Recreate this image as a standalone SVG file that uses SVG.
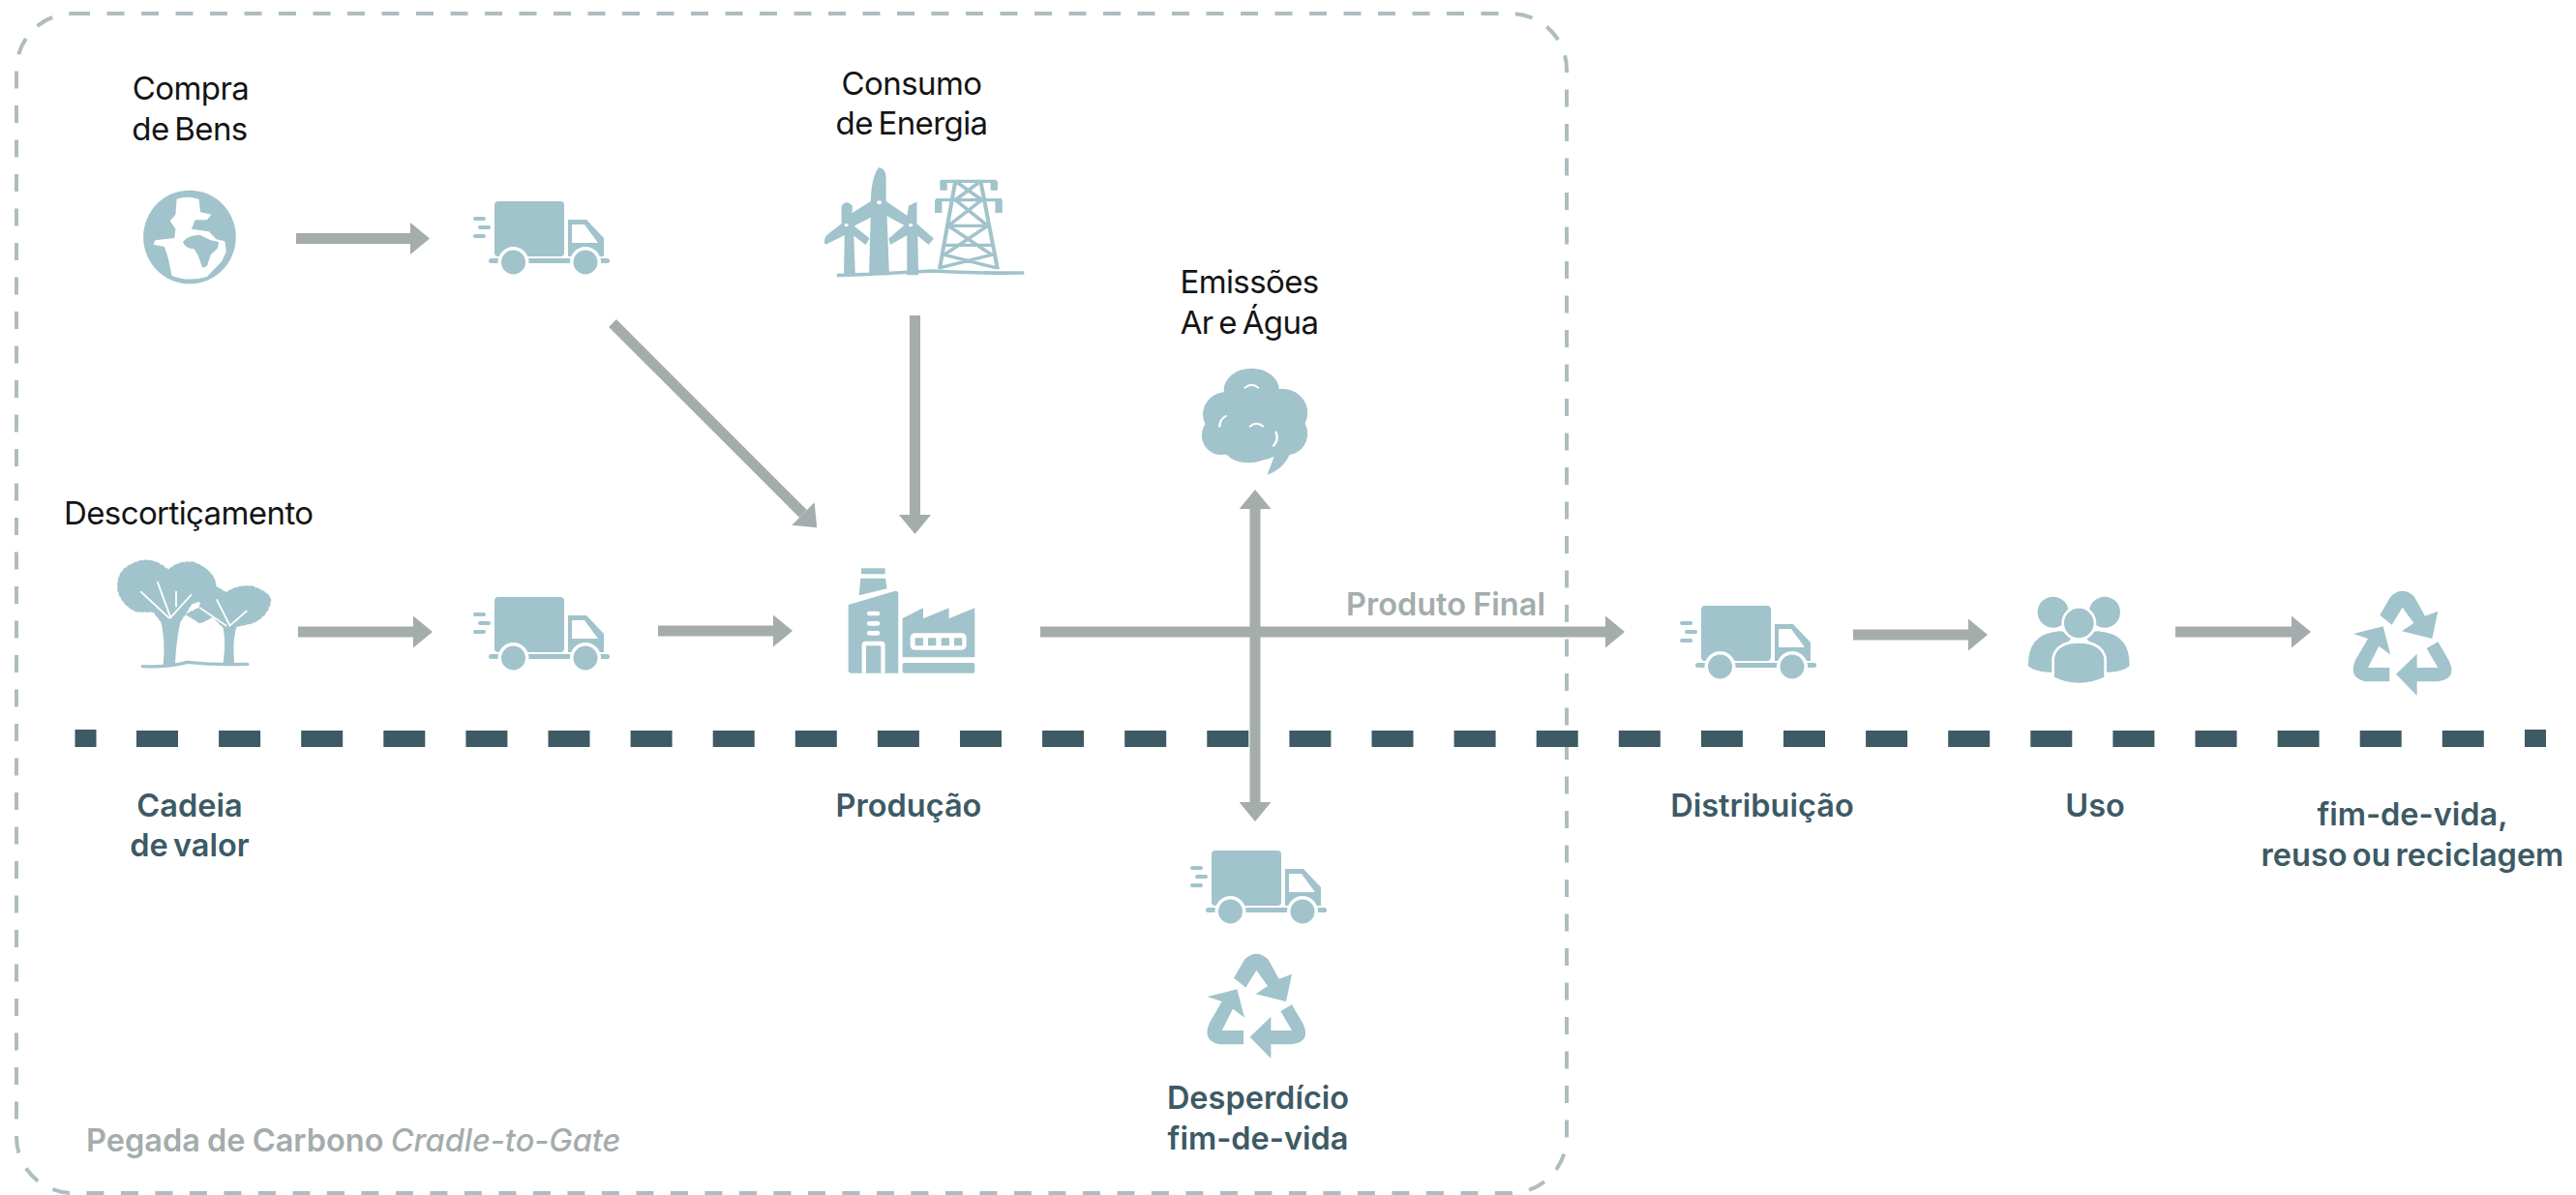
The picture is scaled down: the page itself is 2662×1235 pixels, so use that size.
<svg xmlns="http://www.w3.org/2000/svg" xmlns:xlink="http://www.w3.org/1999/xlink" width="2662" height="1235" viewBox="0 0 2662 1235">
<style>
.i{fill:#a1c3cb}
.w{fill:#fff}
.ws{fill:none;stroke:#fff;stroke-linecap:round}
.bl{font-family:Inter,"Liberation Sans",sans-serif;font-size:33px;font-weight:400;fill:#141414;letter-spacing:-.6px;word-spacing:-3px}
.tl{font-family:Inter,"Liberation Sans",sans-serif;font-size:32.5px;font-weight:600;fill:#3d5a65;word-spacing:-3px}
.gl{font-family:Inter,"Liberation Sans",sans-serif;font-size:32.5px;font-weight:600;fill:#a4acac;word-spacing:-1px}
.ar{stroke:#a4acac;stroke-width:11;fill:none;marker-end:url(#h)}
</style>
<defs>
<marker id="h" viewBox="0 0 20 33" refX="0" refY="16.5" markerWidth="20" markerHeight="33" markerUnits="userSpaceOnUse" orient="auto-start-reverse"><path d="M0 0L20 16.5L0 33Z" fill="#a4acac"/></marker>
<g id="truck">
<rect class="i" width="72" height="57" rx="4"/>
<path class="i" fill-rule="evenodd" d="M76 19H95L113 38V57H76ZM80 24V43H107L93 24Z"/>
<rect class="i" x="-6" y="59" width="125" height="5" rx="2.500"/>
<g class="w"><circle cx="19.500" cy="63" r="16"/><circle cx="94" cy="63" r="16"/></g>
<g class="i"><circle cx="19.500" cy="63" r="12.500"/><circle cx="94" cy="63" r="12.500"/>
<rect x="-22" y="16" width="13" height="4" rx="2"/><rect x="-17" y="25" width="13" height="4" rx="2"/><rect x="-22" y="34" width="13" height="4" rx="2"/></g>
</g>
<g id="recycle" class="i" transform="scale(.3333)"><g transform="translate(-293,-498)">
<path d="M375 572L408 515Q445 480 482 515L515 575L555 560L537 645L443 622L480 597L445 548L412 602Z"/>
<path d="M293 630L385 607L408 695L372 668L338 735H405V778H330Q275 765 300 710L338 645Z"/>
<path d="M555 655L590 715Q615 770 555 778H490V822L425 755L490 692V735H555L520 675Z"/>
</g></g>
</defs>
<rect width="2662" height="1235" fill="#fff"/>

<rect id="boundary" x="17" y="14" width="1602" height="1219" rx="58" fill="none" stroke="#aebdbf" stroke-width="4" stroke-dasharray="18 17.500"/>

<g id="timeline" fill="#3d5a65">
<rect x="77.500" y="754" width="22" height="18"/>
<line x1="141" y1="763.500" x2="2567" y2="763.500" stroke="#3d5a65" stroke-width="17" stroke-dasharray="43 42.100"/>
<rect x="2609" y="754" width="22" height="18"/>
</g>

<g id="connectors">
<line class="ar" x1="306" y1="246.500" x2="424" y2="246.500"/>
<line class="ar" x1="308" y1="653" x2="427" y2="653"/>
<line class="ar" x1="680" y1="652" x2="799" y2="652"/>
<line class="ar" x1="1075" y1="653" x2="1659" y2="653"/>
<line class="ar" x1="1915" y1="656" x2="2034" y2="656"/>
<line class="ar" x1="2248" y1="653" x2="2368" y2="653"/>
<line class="ar" x1="945.500" y1="326" x2="945.500" y2="532"/>
<line class="ar" x1="633" y1="334" x2="830" y2="531"/>
<line class="ar" x1="1297" y1="526" x2="1297" y2="829" style="marker-start:url(#h)"/>
</g>

<g id="compra">
<text class="bl" text-anchor="middle"><tspan x="197" y="103">Compra</tspan><tspan x="196" y="145">de Bens</tspan></text>
<g transform="translate(80,40) scale(.3827,.3333)">
<ellipse class="i" cx="303" cy="615" rx="125" ry="145"/>
<path class="w" d="M268 497Q300 485 328 498L332 538L362 545L350 562L318 562L308 590L355 598L375 622L398 628L402 660L390 690L350 738Q300 755 255 735L245 680L235 645L205 638L210 625L262 618L265 590L250 565L265 545Z"/>
<path class="i" d="M285 630Q295 610 330 608L360 625L382 630L378 650L360 670L350 705L338 710L325 670L315 652Q290 650 285 630Z"/>
</g>
</g>
<g id="truck-compra"><use href="#truck" x="511" y="208"/></g>

<g id="energia">
<text class="bl" text-anchor="middle"><tspan x="942" y="98">Consumo</tspan><tspan x="942" y="139">de Energia</tspan></text>
<g transform="translate(780,50) scale(.408,.3333)">
<g class="i" stroke="#a1c3cb" stroke-width="5">
<path d="M292 700L296 520L245 552L238 520L296 475Q298 400 315 372Q330 375 330 400L330 475L390 525L385 550L332 515L338 700Z"/>
<path d="M228 700L230 575L180 605Q175 590 190 575L222 545L222 490Q232 470 245 490L242 545L288 590L280 605L248 575L252 700Z"/>
<path d="M388 700L388 575L345 605L342 590L385 545L392 490L408 480L408 545L450 590L440 605L410 575L412 700Z"/>
</g>
<circle cx="315" cy="478" r="6" fill="#fff"/><circle cx="232" cy="548" r="5" fill="#fff"/><circle cx="395" cy="548" r="5" fill="#fff"/>
<g fill="none" stroke="#a1c3cb" stroke-width="10">
<path d="M470 412H612M458 470H625"/>
<path d="M508 412L468 685M572 412L615 685M508 412L575 470L490 550L600 640L470 680M572 412L508 470L590 550L480 640L610 680M490 550H590M480 610H600"/>
<path d="M478 412V440M606 412V440M465 470V510M618 470V510" stroke-width="18"/>
</g>
<path d="M208 704Q300 700 450 690Q560 698 682 696" fill="none" stroke="#a1c3cb" stroke-width="11"/>
</g>
</g>

<g id="emissoes">
<text class="bl" text-anchor="middle"><tspan x="1291" y="303">Emissões</tspan><tspan x="1291" y="345">Ar e Água</tspan></text>
<g transform="translate(780,50) scale(.408,.3333)">
<g class="i">
<ellipse cx="1258" cy="1060" rx="70" ry="68"/><ellipse cx="1335" cy="1130" rx="65" ry="75"/><ellipse cx="1195" cy="1135" rx="60" ry="70"/>
<ellipse cx="1180" cy="1200" rx="48" ry="60"/><ellipse cx="1350" cy="1195" rx="50" ry="65"/><ellipse cx="1260" cy="1180" rx="110" ry="100"/>
<ellipse cx="1250" cy="1240" rx="60" ry="45"/>
<path d="M1320 1250L1298 1322Q1350 1300 1362 1230Z"/>
</g>
<g class="ws" stroke-width="6">
<path d="M1242 1052Q1258 1035 1275 1052M1177 1172Q1178 1150 1193 1140M1255 1172Q1270 1155 1287 1172M1320 1190Q1328 1212 1314 1232"/>
</g>
</g>
</g>

<g id="descorticamento">
<text class="bl" x="66" y="542">Descortiçamento</text>
<g transform="translate(50,500) scale(.3827,.3333)">
<g class="i" stroke="#a1c3cb" stroke-width="7" stroke-linecap="round" stroke-dasharray="9 7">
<path d="M190 330Q185 280 215 258Q260 225 300 250L325 270Q350 240 390 245Q440 265 450 310Q440 345 415 360L385 370L370 400L355 425L305 425L285 395L240 395Q200 375 190 330Z"/>
<path d="M415 350L445 315L480 340Q510 315 550 320Q600 340 598 365Q590 410 550 430L510 440L470 440L445 410L410 430L375 405L410 385Z"/>
</g>
<g class="i">
<path d="M300 410L360 410Q345 480 342 562H310Q318 480 300 410Z"/>
<path d="M468 430L512 430Q495 480 502 555H472Q482 480 468 430Z"/>
</g>
<g class="ws" stroke-width="5">
<path d="M250 335L325 415M295 305L330 415L385 345M345 335V380M410 385L480 440M455 360L490 440L535 395"/>
</g>
<path d="M255 566Q320 570 375 553Q450 563 537 559" fill="none" stroke="#a1c3cb" stroke-width="10" stroke-linecap="round"/>
</g>
</g>
<g id="truck-descorticamento"><use href="#truck" x="511" y="617"/></g>

<g id="producao">
<g transform="translate(650,560) scale(.3333)">
<g class="i">
<rect x="720" y="82" width="74" height="18" rx="2"/>
<path d="M718 113H795L800 145L713 166Z"/>
<path d="M680 195L825 152Q835 152 835 162V407H690Q680 407 680 397Z"/>
<path d="M848 237L912 205V238L992 205V238L1072 205V358H848Z"/>
<rect x="848" y="375" width="224" height="32" rx="6"/>
</g>
<g class="w">
<rect x="738" y="215" width="40" height="14" rx="7"/><rect x="738" y="246" width="40" height="14" rx="7"/><rect x="738" y="276" width="40" height="14" rx="7"/>
<path d="M722 407V320Q722 308 734 308H782Q794 308 794 320V407Z"/>
<rect x="872" y="283" width="174" height="52" rx="14"/>
</g>
<g class="i">
<rect x="735" y="322" width="46" height="85"/>
<rect x="887" y="298" width="25" height="24" rx="2"/><rect x="927" y="298" width="25" height="24" rx="2"/><rect x="968" y="298" width="25" height="24" rx="2"/><rect x="1008" y="298" width="25" height="24" rx="2"/>
</g>
</g>
</g>

<g id="produto-final"><text class="gl" x="1391" y="636">Produto Final</text></g>
<g id="truck-distribuicao"><use href="#truck" x="1758" y="626"/></g>

<g id="uso">
<g transform="translate(1680,580) scale(.3333)">
<g id="uso-left" class="i">
<circle cx="1325" cy="158" r="48"/>
<path d="M1248 325Q1245 225 1345 217Q1370 217 1385 235L1330 300V345Q1270 345 1248 325Z"/>
</g>
<g class="i">
<circle cx="1485" cy="158" r="48"/>
<path d="M1562 325Q1565 225 1465 217Q1440 217 1425 235L1480 300V345Q1540 345 1562 325Z"/>
</g>
<circle class="i" cx="1405" cy="192" r="50" stroke="#fff" stroke-width="8"/>
<path class="i" stroke="#fff" stroke-width="8" d="M1325 300Q1335 250 1405 250Q1475 250 1487 300V362Q1405 400 1325 362Z"/>
</g>
</g>

<g id="recycle-fim"><use href="#recycle" x="2432" y="611"/></g>
<g id="truck-desperdicio"><use href="#truck" x="1252" y="879"/></g>
<g id="recycle-desperdicio"><use href="#recycle" x="1247.700" y="986"/></g>

<g id="cadeia"><text class="tl" text-anchor="middle"><tspan x="196" y="844">Cadeia</tspan><tspan x="196" y="885">de valor</tspan></text></g>
<g id="producao-label"><text class="tl" text-anchor="middle" x="939" y="844">Produção</text></g>
<g id="distribuicao-label"><text class="tl" text-anchor="middle" x="1821" y="844">Distribuição</text></g>
<g id="uso-label"><text class="tl" text-anchor="middle" x="2165" y="844">Uso</text></g>
<g id="fim-label"><text class="tl" text-anchor="middle"><tspan x="2493" y="853">fim-de-vida,</tspan><tspan x="2493" y="895">reuso ou reciclagem</tspan></text></g>
<g id="desperdicio-label"><text class="tl" text-anchor="middle"><tspan x="1300" y="1146">Desperdício</tspan><tspan x="1300" y="1188">fim-de-vida</tspan></text></g>
<g id="pegada"><text class="gl" x="89" y="1190">Pegada de Carbono <tspan font-style="italic" font-weight="500">Cradle-to-Gate</tspan></text></g>
</svg>
